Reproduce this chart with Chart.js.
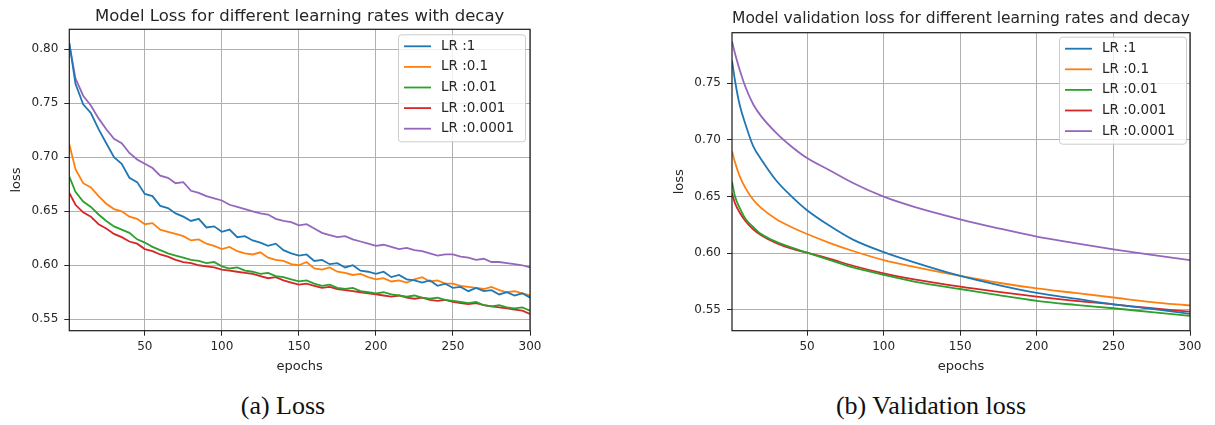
<!DOCTYPE html>
<html>
<head>
<meta charset="utf-8">
<script src="https://cdn.jsdelivr.net/npm/chart.js@4.4.1/dist/chart.umd.min.js"></script>
<style>
  body { margin: 0; width: 1215px; height: 425px; background: #fff; position: relative; overflow: hidden; }
  canvas { position: absolute; top: 0; }
  #lossChart { left: 0; }
  #valChart { left: 660px; }
  .caption { position: absolute; top: 391px; width: 300px; text-align: center;
             font-family: 'Liberation Serif', serif; font-size: 26px; line-height: 30px; color: #111; }
</style>
</head>
<body>
<canvas id="lossChart" width="560" height="380"></canvas>
<canvas id="valChart" width="555" height="380"></canvas>
<div class="caption" style="left:133px">(a) Loss</div>
<div class="caption" style="left:781px">(b) Validation loss</div>
<script>
const seriesLabels = ['LR :1', 'LR :0.1', 'LR :0.01', 'LR :0.001', 'LR :0.0001'];
const seriesColors = ['#1f77b4', '#ff7f0e', '#2ca02c', '#d62728', '#9467bd'];
const xTicks = [50, 100, 150, 200, 250, 300];
const yTicks = [0.55, 0.60, 0.65, 0.70, 0.75, 0.80];

// training loss, read every 5 epochs
const epochsTrain = [1, 5, 10, 15, 20, 25, 30, 35, 40, 45, 50, 55, 60, 65, 70, 75, 80, 85, 90, 95,
  100, 105, 110, 115, 120, 125, 130, 135, 140, 145, 150, 155, 160, 165, 170, 175, 180, 185, 190, 195,
  200, 205, 210, 215, 220, 225, 230, 235, 240, 245, 250, 255, 260, 265, 270, 275, 280, 285, 290, 295, 300];
const lossLr1 = [0.806,0.768,0.749,0.741,0.726,0.713,0.700,0.694,0.681,0.677,0.666,0.664,0.655,0.653,0.648,0.645,0.641,0.643,0.635,0.636,
  0.631,0.633,0.626,0.627,0.623,0.621,0.618,0.620,0.614,0.611,0.609,0.610,0.604,0.605,0.601,0.602,0.598,0.600,0.595,0.594,
  0.592,0.594,0.589,0.591,0.587,0.586,0.584,0.586,0.581,0.583,0.579,0.580,0.576,0.579,0.576,0.577,0.573,0.575,0.572,0.574,0.570];
const lossLr01 = [0.712,0.689,0.676,0.672,0.664,0.657,0.652,0.650,0.645,0.643,0.638,0.639,0.633,0.631,0.629,0.627,0.623,0.624,0.620,0.618,
  0.615,0.617,0.613,0.611,0.610,0.612,0.607,0.605,0.604,0.601,0.600,0.603,0.597,0.596,0.598,0.594,0.593,0.591,0.592,0.589,
  0.587,0.588,0.585,0.586,0.584,0.587,0.589,0.585,0.586,0.583,0.583,0.581,0.580,0.579,0.578,0.580,0.577,0.575,0.576,0.574,0.572];
const lossLr001 = [0.682,0.668,0.659,0.654,0.647,0.641,0.636,0.633,0.630,0.624,0.621,0.617,0.614,0.611,0.609,0.607,0.605,0.604,0.602,0.603,
  0.599,0.597,0.598,0.595,0.594,0.592,0.593,0.590,0.589,0.587,0.585,0.586,0.583,0.581,0.582,0.579,0.578,0.579,0.576,0.575,
  0.574,0.575,0.573,0.572,0.571,0.572,0.570,0.569,0.570,0.568,0.567,0.566,0.565,0.566,0.563,0.562,0.563,0.561,0.560,0.561,0.558];
const lossLr0001 = [0.667,0.656,0.649,0.645,0.638,0.634,0.629,0.626,0.622,0.620,0.615,0.613,0.610,0.608,0.605,0.603,0.602,0.600,0.599,0.598,
  0.596,0.595,0.594,0.593,0.592,0.590,0.588,0.589,0.586,0.584,0.582,0.583,0.581,0.579,0.580,0.578,0.577,0.576,0.575,0.574,
  0.573,0.572,0.571,0.572,0.570,0.569,0.570,0.568,0.567,0.568,0.566,0.565,0.564,0.565,0.563,0.562,0.561,0.560,0.559,0.558,0.555];
const lossLr00001 = [0.805,0.773,0.757,0.748,0.736,0.726,0.717,0.713,0.704,0.698,0.694,0.690,0.683,0.681,0.676,0.677,0.669,0.667,0.664,0.662,
  0.660,0.656,0.654,0.652,0.650,0.648,0.647,0.643,0.641,0.640,0.637,0.638,0.634,0.630,0.628,0.626,0.627,0.624,0.622,0.620,
  0.618,0.619,0.617,0.615,0.616,0.614,0.613,0.611,0.609,0.610,0.610,0.608,0.607,0.605,0.606,0.603,0.603,0.602,0.601,0.600,0.598];

// validation loss (smooth curves)
const epochsVal = [1, 3, 6, 10, 15, 20, 30, 40, 50, 65, 80, 100, 120, 150, 175, 200, 225, 250, 275, 300];
const valLr1 = [0.770,0.752,0.731,0.713,0.694,0.683,0.664,0.650,0.638,0.624,0.612,0.601,0.592,0.580,0.572,0.565,0.560,0.555,0.551,0.5465];
const valLr01 = [0.690,0.680,0.668,0.657,0.647,0.640,0.630,0.623,0.617,0.609,0.602,0.594,0.588,0.580,0.574,0.569,0.565,0.561,0.557,0.554];
const valLr001 = [0.663,0.650,0.640,0.630,0.623,0.617,0.610,0.605,0.6005,0.594,0.5875,0.581,0.575,0.5685,0.563,0.558,0.5545,0.5515,0.548,0.5447];
const valLr0001 = [0.653,0.644,0.636,0.628,0.621,0.616,0.609,0.604,0.6005,0.595,0.589,0.5823,0.577,0.5706,0.566,0.5617,0.558,0.555,0.5515,0.5485];
const valLr00001 = [0.787,0.776,0.762,0.746,0.731,0.721,0.706,0.694,0.684,0.673,0.662,0.650,0.641,0.630,0.622,0.6147,0.609,0.6035,0.5985,0.594];

const FONT = 'DejaVu Sans';
const INK = '#262626';

// matplotlib-like frame + legend inside the axes
const frameAndLegend = {
  id: 'frameAndLegend',
  afterDraw(chart, args, opts) {
    const { ctx, chartArea: a } = chart;
    ctx.save();
    ctx.strokeStyle = '#1a1a1a';
    ctx.lineWidth = 1.2;
    ctx.strokeRect(a.left, a.top, a.right - a.left, a.bottom - a.top);

    const w = 127, h = 107;
    const bx = a.right - opts.insetRight - w, by = a.top + opts.insetTop;
    ctx.beginPath();
    ctx.roundRect(bx + 0.5, by + 0.5, w, h, 3);
    ctx.fillStyle = 'rgba(255,255,255,0.8)';
    ctx.fill();
    ctx.strokeStyle = '#cccccc';
    ctx.lineWidth = 1;
    ctx.stroke();

    ctx.font = '13.5px ' + FONT;
    ctx.textBaseline = 'middle';
    ctx.textAlign = 'left';
    chart.data.datasets.forEach((ds, i) => {
      const y = by + 12 + i * 20.6;
      ctx.strokeStyle = ds.borderColor;
      ctx.lineWidth = 1.8;
      ctx.beginPath();
      ctx.moveTo(bx + 6, y);
      ctx.lineTo(bx + 33, y);
      ctx.stroke();
      ctx.fillStyle = INK;
      ctx.fillText(ds.label, bx + 43, y);
    });
    ctx.restore();
  }
};

function makeChart(id, cfg) {
  const datasets = cfg.series.map((vals, i) => ({
    label: seriesLabels[i],
    data: vals.map((v, k) => ({ x: cfg.epochs[k], y: v })),
    borderColor: seriesColors[i],
    borderWidth: 1.8,
    pointRadius: 0,
    fill: false,
    tension: cfg.smooth ? 0.4 : 0,
    cubicInterpolationMode: cfg.smooth ? 'monotone' : 'default'
  }));

  return new Chart(document.getElementById(id).getContext('2d'), {
    type: 'line',
    data: { datasets: datasets },
    options: {
      responsive: false,
      animation: false,
      layout: { padding: { left: 0, right: cfg.padRight, top: 0, bottom: 0 } },
      plugins: {
        legend: { display: false },
        tooltip: { enabled: false },
        title: {
          display: true,
          text: cfg.title,
          fullSize: false,
          color: INK,
          font: { family: FONT, size: 16.5, weight: 'normal' },
          padding: cfg.titlePad
        },
        frameAndLegend: { insetRight: cfg.legendInset, insetTop: cfg.legendTop }
      },
      scales: {
        x: {
          type: 'linear',
          min: 1,
          max: 300,
          afterBuildTicks: s => { s.ticks = xTicks.map(v => ({ value: v })); },
          afterFit: s => { s.height = 49.3; },
          border: { display: false },
          grid: { color: '#b0b0b0', lineWidth: 1, tickLength: 5, tickColor: INK },
          ticks: { color: INK, font: { family: FONT, size: 12 }, padding: 4, maxRotation: 0 },
          title: { display: true, text: 'epochs', color: INK, font: { family: FONT, size: 13 }, padding: { top: 0, bottom: 6 } }
        },
        y: {
          type: 'linear',
          min: cfg.yMin,
          max: cfg.yMax,
          afterBuildTicks: s => { s.ticks = yTicks.filter(v => v <= cfg.yMax).map(v => ({ value: v })); },
          afterFit: s => { s.width = cfg.yAxisWidth; },
          border: { display: false },
          grid: { color: '#b0b0b0', lineWidth: 1, tickLength: 5, tickColor: INK },
          ticks: { color: INK, font: { family: FONT, size: 12 }, padding: 6, callback: v => v.toFixed(2) },
          title: { display: true, text: 'loss', color: INK, font: { family: FONT, size: 13 }, padding: { top: cfg.yTitlePad, bottom: 0 } }
        }
      }
    },
    plugins: [frameAndLegend]
  });
}

makeChart('lossChart', {
  title: 'Model Loss for different learning rates with decay',
  epochs: epochsTrain,
  series: [lossLr1, lossLr01, lossLr001, lossLr0001, lossLr00001],
  smooth: false,
  yMin: 0.5394, yMax: 0.8185,
  yAxisWidth: 69.3,
  yTitlePad: 9,
  padRight: 30,
  titlePad: { top: 6.8, bottom: 2.7 },
  legendInset: 5,
  legendTop: 5
});

makeChart('valChart', {
  title: 'Model validation loss for different learning rates and decay',
  epochs: epochsVal,
  series: [valLr1, valLr01, valLr001, valLr0001, valLr00001],
  smooth: true,
  yMin: 0.5317, yMax: 0.7946,
  yAxisWidth: 72,
  yTitlePad: 12,
  padRight: 25,
  titlePad: { top: 9.1, bottom: 3.8 },
  legendInset: 4,
  legendTop: 4
});
</script>
</body>
</html>
